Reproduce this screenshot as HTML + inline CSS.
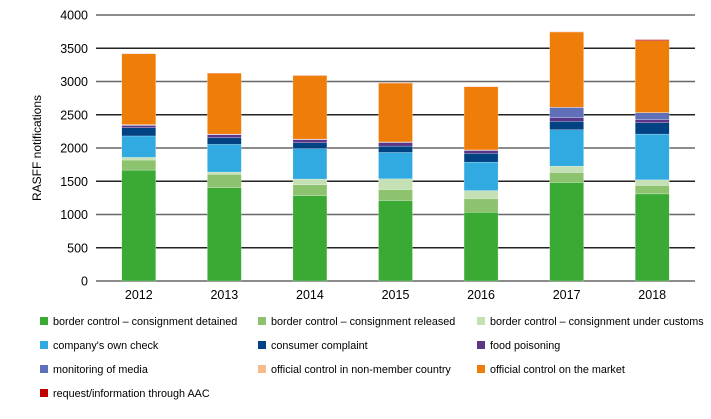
<!DOCTYPE html>
<html><head><meta charset="utf-8"><style>
body{margin:0;background:#fff;font-family:"Liberation Sans",sans-serif;}
svg text{font-family:"Liberation Sans",sans-serif;}
</style></head><body>
<svg id="chart" width="711" height="414"></svg>
<script>
const years=["2012","2013","2014","2015","2016","2017","2018"];
const seriesNames=["border control - consignment detained","border control - consignment released","border control - consignment under customs","company's own check","consumer complaint","food poisoning","monitoring of media","official control in non-member country","official control on the market","request/information through AAC"];
const colors=["#3aaa35","#8dc26f","#c5e0b4","#31aae2","#004282","#5b3588","#6070b8","#f8bb8b","#ef7d0a","#c00000"];
const detained=[1668,1402,1281,1210,1034,1481,1310];
const released=[151,201,166,165,206,151,126];
const underCustoms=[40,35,86,161,120,95,85];
const ownCheck=[322,417,457,397,427,547,688];
const complaint=[125,101,90,95,131,126,171];
const poisoning=[31,45,46,55,45,55,45];
const media=[10,5,5,5,5,155,105];
const nonMember=[5,3,3,3,3,3,3];
const market=[1065,917,956,886,951,1132,1081];
const aac=[2,2,2,2,2,2,16];
const yTicks=[0,500,1000,1500,2000,2500,3000,3500,4000];
const series=[detained,released,underCustoms,ownCheck,complaint,poisoning,media,nonMember,market,aac];
const NS="http://www.w3.org/2000/svg";
const svg=document.getElementById('chart');
const L=96,R=695,T=15,B=281,yMax=4000;
const y=v=>B-(v/yMax)*(B-T);
const step=(R-L)/years.length;
const xc=i=>L+step*(i+0.5);
const bw=34;
function mk(tag,attrs){const e=document.createElementNS(NS,tag);for(const k in attrs)e.setAttribute(k,attrs[k]);svg.appendChild(e);return e;}
yTicks.forEach((t,i)=>{
  const l=mk('line',{x1:L,x2:R,y1:y(t),y2:y(t),stroke:(i%2?'#222':'#666'),'stroke-width':1.5});
  
  
  const tx=mk('text',{x:88,y:y(t)+4.5,'text-anchor':'end','font-size':12.5,fill:'#000'});
  tx.textContent=t;
  
  
});
const yt=mk('text',{x:0,y:0,'text-anchor':'middle','font-size':12,transform:'translate(41,148) rotate(-90)'});
yt.textContent='RASFF notifications';


years.forEach((yr,i)=>{
  let acc=0;
  series.forEach((s,j)=>{
    const v=s[i];
    const r=mk('rect',{x:xc(i)-bw/2,y:y(acc+v),width:bw,height:Math.max(0,y(acc)-y(acc+v)),fill:colors[j],stroke:'#fff','stroke-width':0.4,'stroke-opacity':0.6});
    
    
    acc+=v;
  });
  const tx=mk('text',{x:xc(i),y:299,'text-anchor':'middle','font-size':12.5});
  tx.textContent=yr;
  
  
});
const colX=[40,258,477],rowY=[324,348,372,396];
seriesNames.forEach((n,j)=>{
  const cx=colX[j%3],cy=rowY[Math.floor(j/3)];
  const g=document.createElementNS(NS,'g');svg.appendChild(g);
  
  
  const r=document.createElementNS(NS,'rect');
  r.setAttribute('x',cx);r.setAttribute('y',cy-7);r.setAttribute('width',8);r.setAttribute('height',8);r.setAttribute('fill',colors[j]);
  g.appendChild(r);
  const t=document.createElementNS(NS,'text');
  t.setAttribute('x',cx+13);t.setAttribute('y',cy+1);t.setAttribute('font-size',10.8);
  t.textContent=n.replace(' - ',' – ');
  g.appendChild(t);
});
</script>
</body></html>
